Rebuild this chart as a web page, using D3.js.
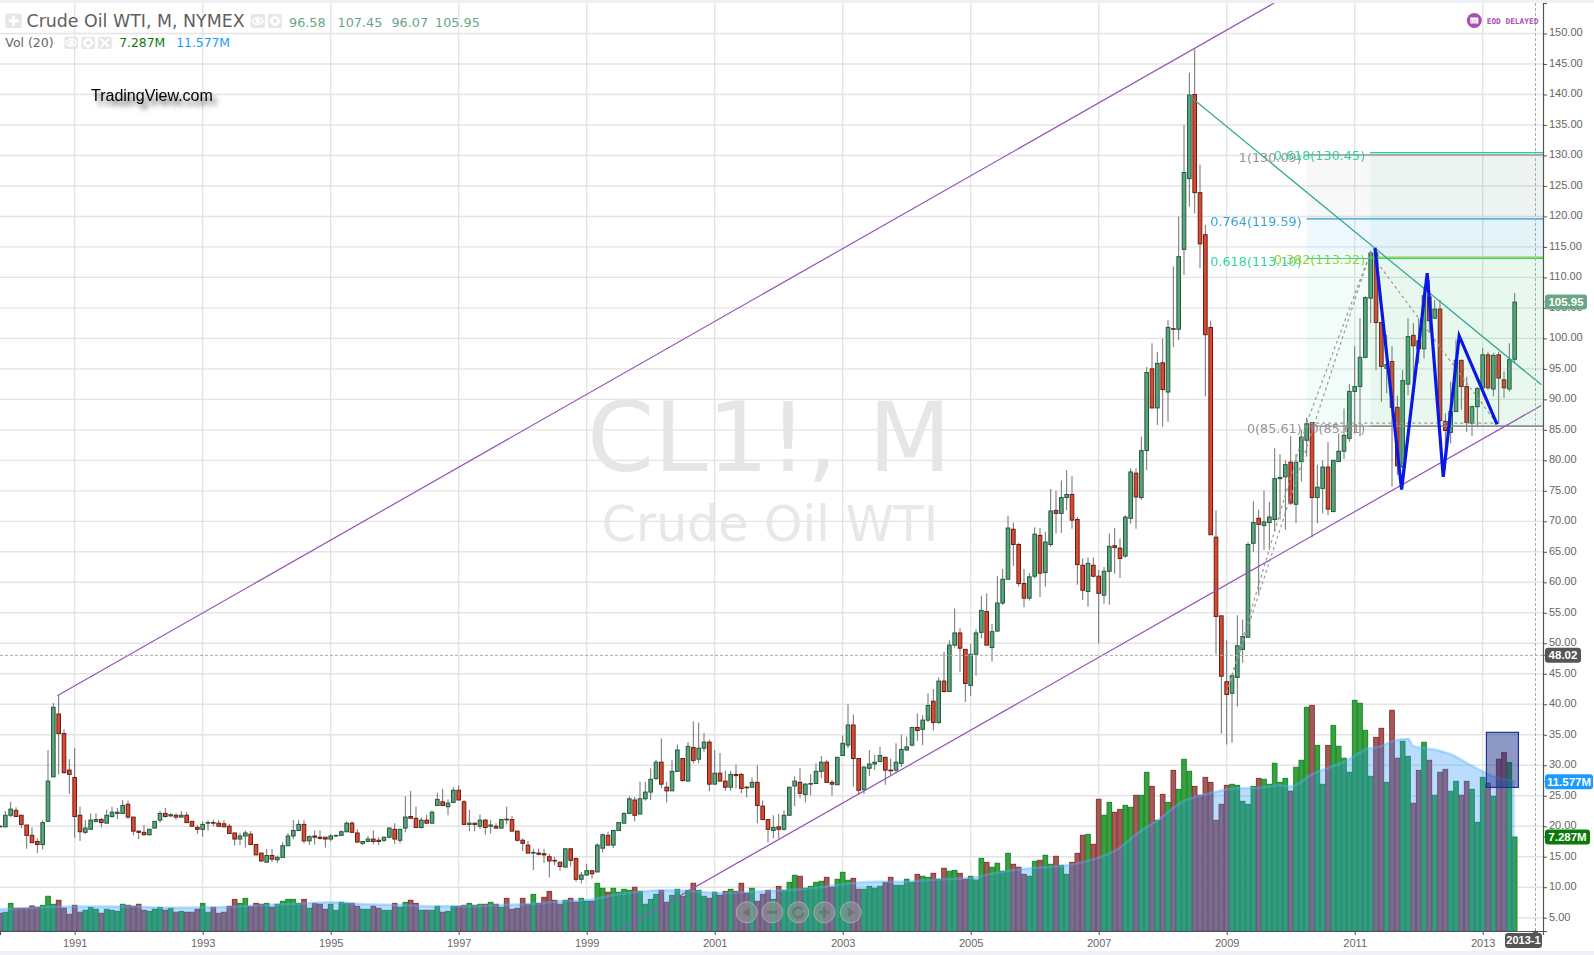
<!DOCTYPE html>
<html>
<head>
<meta charset="utf-8">
<title>CL1!, M</title>
<script src="https://cdn.jsdelivr.net/npm/d3@7/dist/d3.min.js"></script>
<style>
  html, body { margin: 0; padding: 0; background: #fff; overflow: hidden; }
  svg { display: block; }
</style>
</head>
<body>
<svg id="chart" width="1594" height="955"></svg>
<script>
// month index: 0 = Jan 1991, one row per month from Nov 1989 to Jul 2013
const firstMonth = -14;
// open, high, low, close
const ohlc = [
  [20.0,20.1,19.9,19.9],[19.9,22.5,19.9,21.8],
  // 1990
  [21.8,24,21.5,22.8],[22.6,23.1,21.5,21.6],[21.8,21.8,19.7,20.3],[20.2,20.2,16.3,18.5],[18.5,19.8,17.3,17.3],[17.5,18,15.6,17],[17,21,16.2,20.6],[20.8,32.5,20.8,27.4],[28.1,40.2,28.1,39.5],[38.4,41.4,28.5,35.2],[35.2,35.9,28.6,28.8],[29.2,31,25.3,28.5],
  // 1991
  [28,32.8,18.1,21.6],[21.8,23.2,17.6,19.1],[19,21,18.7,19.7],[19.5,22.1,19.5,21],[20.8,22.1,20.6,21.1],[21.1,21.4,19.8,20.6],[20.5,22.7,20.5,21.8],[21.6,23.2,21.4,22.3],[22.1,23,21.2,22.3],[22.1,24.3,22.1,23.4],[23.6,24.2,21.2,21.5],[21.5,21.5,18.5,19.2],
  // 1992
  [19.2,19.2,17.9,19],[19,20.2,18.5,18.6],[18.6,19.5,18.5,19.5],[19.7,20.8,19.7,20.8],[21,22.5,20.6,22.1],[22.1,23,21.4,21.6],[21.7,22.1,21.5,21.9],[21.8,22.1,21.1,21.5],[21.5,22.5,21.4,21.8],[21.8,22.3,20.5,20.6],[20.8,20.8,19.9,20],[19.8,20.2,18.7,19.5],
  // 1993
  [19.5,20.8,18.3,20.3],[20.55,21,19.3,20.6],[20.6,21.1,20,20.5],[20.5,21,19.9,20],[20.4,21,19.9,19.9],[20,20.4,18.8,18.8],[18.9,18.9,16.8,17.9],[17.9,18.9,16.9,18.4],[18.4,19.3,16.5,18.9],[18.7,19.2,17,17],[17,17,15.3,15.3],[15.6,15.6,14.2,14.3],
  // 1994
  [14.1,16.3,14.1,15.2],[15.2,16.3,14.1,14.6],[14.5,15.2,14,14.9],[14.9,17.4,14.9,16.8],[16.8,18.9,16.8,18.4],[18.4,21,17.9,19.3],[19.3,21,19.3,20.3],[20.3,21,17.2,17.6],[17.6,18.5,16.9,18.3],[18.4,19.3,17,18.2],[18.2,19.3,17.8,18],[18.2,18.2,16.5,17.9],
  // 1995
  [17.9,18.7,17.5,18.4],[18.4,18.6,18.2,18.5],[18.5,19.3,18.5,19.1],[19.1,20.8,19,20.5],[20.5,20.8,18.9,19],[18.9,19.5,17.4,17.4],[17.2,17.5,16.9,17.5],[17.5,18.4,17.4,17.9],[17.9,19.3,17,17.5],[17.7,18.2,16.9,17.5],[17.7,18.3,17.4,18.2],[18.2,19.8,18,19.7],
  // 1996
  [19.5,20.5,17.1,17.9],[17.7,19.5,17.2,19.5],[19.7,24.9,19,21.5],[21.6,25.8,21.3,21.3],[21.3,23.2,19.8,19.8],[19.8,21.5,19.6,21],[21,21.9,20.4,20.5],[20.5,22.6,20.5,22.3],[23.4,25.5,23.3,24.4],[24,26.1,23.3,23.4],[23.2,24.4,21.8,23.8],[23.9,26.4,23.9,25.9],
  // 1997
  [25.9,26.7,24.3,24.3],[24,24.3,20.3,20.3],[20.3,22.7,19.2,20.5],[20.5,20.5,19.2,20.3],[20,21.9,19.6,21],[21,21.2,18.6,19.8],[20,21,18.8,20.2],[20,20.5,19.6,19.7],[19.7,21.1,19.6,21.1],[21.15,23.2,20.3,21.1],[21.1,21.7,19.2,19.2],[19.2,19.2,17.5,17.7],
  // 1998
  [17.7,18,15.9,17.2],[16.9,17.6,15.5,15.6],[15.6,16.3,12.8,15.7],[15.6,16.3,15.2,15.4],[15.5,16.3,14,15.3],[15,15.5,11.6,14.3],[14.4,15,13.6,14.3],[14.1,14.2,12.7,13.4],[13.3,16.4,13.3,16.3],[16.3,16.4,13.4,14.4],[14.7,14.9,10.9,11.3],[11.3,12.5,10.6,12],
  // 1999
  [12,13.8,11.9,12.7],[12.7,12.8,11.4,12.2],[12.5,17.2,12.5,16.9],[16.4,18.8,15.7,18.6],[18.5,19.1,16.9,16.9],[16.9,19.4,16.4,19.3],[19.3,20.6,19.3,20.6],[20.5,22.3,20.5,22.1],[22.1,24.9,22.1,24.5],[24.3,24.8,20.8,21.8],[22,27.3,22,24.5],[24.5,27.3,24.2,25.6],
  // 2000
  [25.6,29.5,24.3,27.7],[27.8,30.9,27.6,30.5],[30.5,34.4,26.2,26.9],[26.4,27.3,23.9,25.8],[25.8,30.9,25.8,29],[29,33.4,28.9,32.5],[31.1,31.1,27.3,27.5],[27.4,33.8,27.4,33.1],[32.9,37.2,30.3,30.8],[31,37,30.3,32.8],[32.8,35.3,32.2,33.8],[33.8,34.2,25.7,26.9],
  // 2001
  [26.9,32.5,26.9,28.7],[28.7,32,27.4,27.4],[27.4,29.1,25.8,26.4],[26.4,29.1,25.8,28.5],[28.5,30.1,26.2,28.3],[28.5,28.7,25.4,26.2],[26.4,26.6,24.7,26.3],[26.4,28,26.4,27.2],[27.2,30,20.5,23.4],[23.3,24.2,21.1,21.1],[21.1,21.1,17.3,19.5],[19.3,21.8,18,19.8],
  // 2002
  [19.9,22,18,19.5],[19.5,22.6,19.3,21.8],[21.8,26.4,21.8,26.4],[26.6,28.2,23.3,27.4],[27.2,29.5,24.6,25.4],[25.2,27.1,23.9,26.9],[26.9,28.5,25.1,27],[27,30.3,27,29],[29,31.5,27.9,30.5],[30.5,30.9,27.2,27.2],[27.2,27.6,25,26.9],[26.8,31.3,26.8,31.3],
  // 2003
  [31.6,34.9,31.6,33.6],[33.3,40,32.8,36.6],[36.6,38.3,26.5,31.1],[31.1,31.1,25.2,25.9],[26,29.7,25.3,29.7],[29.5,32.5,28.2,30.2],[30.2,31.7,29.2,30.5],[30.6,33,30.6,31.6],[31.3,31.4,26.8,29.2],[29.2,31.1,28.3,29.1],[29.2,33.6,28.7,30.5],[30.3,35,29.7,32.6],
  // 2004
  [32.5,34.7,32.4,33],[33.3,36.2,33.1,36.2],[36.2,38.5,34,35.7],[35.9,38.2,33.3,37.4],[37.4,41.8,37.1,39.8],[40.5,42.5,35.7,37],[37,44.4,36.8,43.8],[43.8,48.6,41.9,42.1],[42.1,50.5,42.1,49.7],[49.7,55.7,49.3,51.7],[51.7,52.5,45.3,49.2],[49,49,40.4,43.4],
  // 2005
  [43.1,49.9,41.4,48.2],[48.2,52.3,44.7,51.7],[51.8,57.8,50.8,55.4],[55.2,58.2,49.7,49.7],[49.3,53.2,47,51.9],[52,61,52,56.6],[56.6,62.2,56.3,60.5],[60.5,70.9,60.5,68.9],[68.7,69.8,62.7,66.2],[66.2,66.5,59.3,59.8],[59.8,62.2,55.9,57.4],[57.4,61.5,57,60.9],
  // 2006
  [61,69,60.6,67.9],[67.7,68.9,57.6,61.5],[61.6,68.3,59.3,66.6],[66.2,75.3,65.8,71.7],[71.8,75,68,71.3],[71.3,76.7,68.1,73.9],[73.9,78.4,71.8,74.4],[74.4,77.4,68.8,70.2],[70.3,70.7,59.6,62.9],[62.8,63.9,57.1,58.7],[58.5,64.1,56,63.1],[62.8,64.1,60.8,61],
  // 2007
  [61,62,50,58.2],[57.9,62.5,56.5,61.8],[61.8,68,56.3,65.9],[66,68.9,61.4,65.7],[65.6,67.2,60.7,63.9],[64.3,71,64,70.7],[70.5,78.7,69.6,78.1],[77.9,78.7,68.8,74],[73.9,83.9,73.5,81.6],[81.6,95.3,78.4,94.4],[95,99.2,88.5,88.6],[88.6,97.8,85.8,95.9],
  // 2008
  [96,100,85.5,91.6],[91.2,103,86.3,101.8],[101.6,111.8,98.6,101.5],[101.5,120,99.7,113.4],[114.6,135,110.4,127.2],[126.2,143.6,121.6,139.9],[140,147.4,120.5,123.9],[123.9,128.5,111.5,115.5],[117,118.6,90.5,100.6],[101.8,102.9,67.8,67.8],[67.4,71.8,48.2,54.4],[54.5,54.5,35.2,44.6],
  // 2009
  [43.7,50.5,33.4,41.6],[41.8,44.7,33.7,44.7],[44.4,54.6,39.6,49.6],[49,53.9,46.8,51.1],[51,66.6,51,66.2],[66.4,73.3,65,69.8],[70.5,71.9,58.2,69.5],[69.3,75,65.3,69.9],[69.8,73.2,65.3,70.7],[70.3,82,68.3,77],[77,81,70.3,77.2],[77.3,80,68.6,79.3],
  // 2010
  [79.7,84,72.7,73],[72.8,81,69.7,79.7],[79.8,85,76.5,83.8],[83.3,87,80.6,86],[86.2,86.2,67.4,73.9],[73.9,79.3,69.7,75.6],[75.4,80,71.3,78.9],[78.9,83,71,72],[71.6,80,71.5,80],[79.8,84.4,79.8,81.5],[81.5,88.5,80.2,84.1],[83.6,92.5,83,91.3],
  // 2011
  [91.3,98.7,84.4,92.1],[92.1,103.3,83.9,96.9],[96.9,106.9,96.7,106.7],[106.6,114.4,102.5,114],[114,115,94.8,102.6],[102.6,102.6,89.6,95.4],[95.1,100.6,91,95.7],[96.2,98.7,75.7,88.7],[88.7,90.6,77.6,79.1],[78.9,94.8,77.3,93.1],[92.5,103.3,90.7,100.3],[100.5,102.5,92.9,98.8],
  // 2012
  [99.6,103.3,95.9,98.3],[98.3,108.5,96.7,107],[106.8,109.6,100.9,102.9],[103.3,106.3,103.3,104.8],[104.8,106.3,86.4,86.5],[86.4,87.7,78.4,84.9],[84.6,92.9,82.8,88],[88,99.8,88,96.4],[96.4,96.5,88.3,92.1],[92.1,93.7,84.7,86.2],[86.1,89,84,88.8],[88.8,92,85.4,91.8],
  // 2013
  [91.9,98.4,91.9,97.3],[97.3,97.8,91.6,91.9],[91.7,97.6,90.5,97.2],[97.3,97.8,86,93.5],[93.2,94.6,90.2,91.9],[91.7,99.2,91.3,96.5],[96.58,107.45,96.07,105.95]
];
// millions, same months as ohlc
const volumeM = [
  1.37,1.45,
  2.14,1.76,1.76,1.76,1.94,1.83,1.99,2.69,2.07,2.38,1.76,1.29,
  1.99,1.45,1.60,1.83,1.68,1.37,1.68,1.60,1.52,2.07,1.99,1.91,
  2.07,1.60,1.52,1.68,1.83,1.60,1.76,1.45,1.52,1.45,1.45,1.68,
  2.14,1.45,1.83,1.37,1.45,1.91,2.45,2.14,2.53,1.91,2.14,2.07,
  2.14,1.83,2.07,2.30,2.45,2.45,2.14,2.45,1.76,2.14,2.07,1.68,
  2.07,1.60,2.22,2.14,2.14,1.91,1.68,1.68,1.91,1.76,1.60,1.60,
  2.14,1.83,2.22,2.38,2.14,1.60,1.60,1.60,1.91,1.45,1.52,1.91,
  1.91,1.99,2.14,1.99,2.07,2.07,2.22,2.07,1.83,2.53,1.68,1.76,
  2.53,2.07,2.84,2.14,2.61,3.07,2.38,2.07,2.38,2.53,2.22,2.53,
  2.30,2.30,3.70,3.31,3.00,3.31,3.00,3.23,3.15,3.39,3.07,2.07,
  2.45,2.84,3.15,2.22,2.76,3.23,2.69,3.15,3.70,3.15,2.69,2.53,
  3.00,2.76,3.07,3.23,3.07,3.70,2.92,3.31,2.30,2.84,3.15,2.45,
  3.46,3.15,3.77,4.32,4.24,3.31,3.46,3.77,3.85,4.16,3.39,4.01,
  4.55,3.93,4.08,3.23,3.23,3.46,3.31,3.46,3.77,4.16,3.54,3.54,
  4.01,3.77,4.39,4.24,4.16,4.47,4.01,4.86,4.63,4.70,4.47,4.01,
  4.24,3.95,5.63,5.32,4.94,5.25,4.63,6.02,5.17,4.94,4.39,4.24,
  5.40,5.48,5.87,5.17,5.79,5.09,4.39,5.32,6.02,7.42,7.49,6.72,
  10.21,8.97,9.97,9.20,9.43,9.74,9.59,10.52,10.52,12.30,11.21,8.58,
  10.59,9.97,12.45,10.98,13.31,12.38,11.21,10.52,11.91,11.52,8.58,9.82,
  11.29,11.37,11.29,10.05,9.82,11.21,11.83,11.76,11.37,13.00,11.52,11.83,
  10.83,12.69,13.23,17.34,17.49,14.39,11.37,14.39,15.94,14.32,13.39,12.30,
  17.88,17.65,15.56,11.99,15.01,15.71,11.52,17.11,13.39,14.70,13.54,9.90,
  12.45,14.63,13.23,10.52,12.30,12.53,10.83,11.60,10.52,11.60,10.98,8.42,
  11.91,11.45,10.44,13.31,13.82,13.05,7.287
];
// 20-period volume average
const volumeMaMonths = [-14,-8,0,11,17,29,36,42,48,55,61,67,74,80,86,92,97,101,106,111,117,121,127,133,139,145,150,155,161,168,174,180,186,191,196,199,203,208,212,214,218,222,226,228,232,236,238,242,245,247,250,251,255,258,262,266,270];
const volumeMaValues = [1.68,1.81,1.89,1.89,1.81,1.86,2.02,2.12,2.22,2.07,2.02,1.91,1.91,2.02,2.12,2.33,2.45,2.79,3.05,3.15,3.05,2.95,3.05,3.15,3.36,3.67,3.82,3.82,3.98,4.13,4.6,4.9,5.1,5.55,6.46,7.49,8.57,10.08,10.6,10.8,11.06,11.11,11.3,11.2,12.15,12.8,13.1,14.07,14.33,14.7,14.9,14.33,14.07,13.7,12.8,12.0,11.577];

const priceTicks = d3.range(5, 151, 5);
const yearTickMonths = [0,24,48,72,96,120,144,168,192,216,240,264];
const yearTickLabels = ['1991','1993','1995','1997','1999','2001','2003','2005','2007','2009','2011','2013'];

// drawing tools, [month, price]
const upperChannel = [[-3.26,41.4],[224.9,155]];
const lowerChannel = [[102.2,3],[275,89]];
const downTrend = [[208.8,139.9],[275,92.4]];
const blueZigzag = [[243.8,114.8],[248.8,75.2],[253.6,110.7],[256.6,77.3],[259.6,100.4],[266.7,85.9]];
const fibDashA = [[216,41.9],[231,86.1],[242.9,114],[266.6,86.1],[231,86.1]];
const fibDashB = [[216,41.9],[242.9,114]];
const fibStartA = 231, fibStartB = 242.9;
const fibLevelsA = [
  { level: '1', price: 130.09, color: '#8c8c8c', band: 'rgba(120,120,120,0.05)' },
  { level: '0.764', price: 119.59, color: '#2a9bd8', band: 'rgba(33,150,243,0.07)' },
  { level: '0.618', price: 113.10, color: '#1fd19a', band: 'rgba(40,200,150,0.06)' },
  { level: '0', price: 85.61, color: '#8c8c8c', band: null }
];
const fibLevelsB = [
  { level: '0.618', price: 130.45, color: '#1fd19a', band: 'rgba(30,170,130,0.055)' },
  { level: '0.382', price: 113.32, color: '#8fcf20', band: 'rgba(90,190,60,0.06)' },
  { level: '0', price: 85.61, color: '#8c8c8c', band: null }
];
const headerValues = ['96.58','107.45','96.07','105.95'];
const headerValueX = [289,337.5,391.4,435];

const plotW = 1543, plotTop = 3, plotBottom = 931;
const svg = d3.select('#chart');
const x = d3.scaleLinear([-14, 275.31], [0, plotW]);
const y = d3.scaleLinear([2.82, 155], [plotBottom, plotTop]);
const yVol = d3.scaleLinear([0, 10], [plotBottom, plotBottom - 129]);
const candles = ohlc.map((d, i) => ({ month: firstMonth + i, open: d[0], high: d[1], low: d[2], close: d[3], vol: volumeM[i], up: d[3] >= d[0] }));
const priceLine = d3.line().x((d) => x(d[0])).y((d) => y(d[1]));

svg.append('rect').attr('width', 1594).attr('height', 955).attr('fill', '#fff');
const defs = svg.append('defs');
defs.append('clipPath').attr('id', 'plot').append('rect').attr('x', 0).attr('y', plotTop).attr('width', plotW).attr('height', plotBottom - plotTop);
defs.append('filter').attr('id', 'logoShadow').attr('x', '-10%').attr('y', '-50%').attr('width', '125%').attr('height', '220%')
  .append('feDropShadow').attr('dx', 4).attr('dy', 5).attr('stdDeviation', 2.4).attr('flood-color', '#000').attr('flood-opacity', 0.65);

// grid
const grid = svg.append('g').attr('stroke', '#e4e4e4').attr('stroke-width', 1.4);
grid.selectAll('.h').data(priceTicks).join('line').attr('x1', 0).attr('x2', plotW).attr('y1', (d) => y(d)).attr('y2', (d) => y(d));
grid.selectAll('.v').data(yearTickMonths).join('line').attr('x1', (d) => x(d)).attr('x2', (d) => x(d)).attr('y1', plotTop).attr('y2', plotBottom);

// watermark
svg.append('text').attr('x', 769).attr('y', 471).attr('text-anchor', 'middle').attr('font-family', 'DejaVu Sans').attr('font-size', 96).attr('fill', '#e6e6e6').text('CL1!, M');
svg.append('text').attr('x', 770).attr('y', 541).attr('text-anchor', 'middle').attr('font-family', 'DejaVu Sans').attr('font-size', 49).attr('fill', '#e8e8e8').text('Crude Oil WTI');

const plot = svg.append('g').attr('clip-path', 'url(#plot)');

// volume
const barW = 4.6;
plot.append('g').selectAll('rect').data(candles).join('rect')
  .attr('x', (d) => x(d.month) - barW / 2).attr('y', (d) => yVol(d.vol))
  .attr('width', barW).attr('height', (d) => plotBottom - yVol(d.vol))
  .attr('fill', (d) => (d.up ? '#3ca03c' : '#a55a5a'))
  .attr('stroke', (d) => (d.up ? '#128a2e' : '#8a3232')).attr('stroke-width', 1);
const maPoints = volumeMaMonths.map((m, i) => [m, volumeMaValues[i]]);
plot.append('path').datum(maPoints)
  .attr('d', d3.area().x((d) => x(d[0])).y0(plotBottom).y1((d) => yVol(d[1])).curve(d3.curveMonotoneX))
  .attr('fill', 'rgba(42,149,255,0.33)');
plot.append('path').datum(maPoints)
  .attr('d', d3.line().x((d) => x(d[0])).y((d) => yVol(d[1])).curve(d3.curveMonotoneX))
  .attr('fill', 'none').attr('stroke', 'rgba(90,180,255,0.4)').attr('stroke-width', 2.5);

// candles
const candleW = 3.6;
plot.append('g').attr('stroke', '#707070').selectAll('line').data(candles).join('line')
  .attr('x1', (d) => x(d.month)).attr('x2', (d) => x(d.month)).attr('y1', (d) => y(d.high)).attr('y2', (d) => y(d.low));
plot.append('g').selectAll('rect').data(candles).join('rect')
  .attr('x', (d) => x(d.month) - candleW / 2).attr('width', candleW)
  .attr('y', (d) => y(Math.max(d.open, d.close)))
  .attr('height', (d) => Math.max(0.6, Math.abs(y(d.open) - y(d.close))))
  .attr('fill', (d) => (d.up ? '#5da37c' : '#db4a33'))
  .attr('stroke', (d) => (d.up ? '#1f5a3c' : '#6b1c12')).attr('stroke-width', 1);

// fib retracements
function drawFib(levels, start) {
  const left = x(start);
  levels.forEach((l, i) => {
    if (!l.band) return;
    const next = levels[i + 1];
    plot.append('rect').attr('x', left).attr('width', plotW - left).attr('y', y(l.price)).attr('height', y(next.price) - y(l.price)).attr('fill', l.band);
  });
}
drawFib(fibLevelsA, fibStartA);
drawFib(fibLevelsB, fibStartB);
function drawFibLines(levels, start) {
  levels.forEach((l) => {
    plot.append('line').attr('x1', x(start)).attr('x2', plotW).attr('y1', y(l.price)).attr('y2', y(l.price)).attr('stroke', l.color).attr('stroke-width', 1.2);
    svg.append('text').attr('x', x(start) - 5).attr('y', y(l.price) + 7).attr('text-anchor', 'end')
      .attr('font-family', 'DejaVu Sans').attr('font-size', 12.8).attr('fill', l.color).attr('opacity', 0.92)
      .text(`${l.level}(${l.price.toFixed(2)})`);
  });
}
drawFibLines(fibLevelsA, fibStartA);
drawFibLines(fibLevelsB, fibStartB);

// trend lines
[upperChannel, lowerChannel].forEach((p) => {
  plot.append('path').attr('d', priceLine(p)).attr('fill', 'none').attr('stroke', '#9355b5').attr('stroke-width', 1.2);
});
plot.append('path').attr('d', priceLine(downTrend)).attr('fill', 'none').attr('stroke', '#2aa88e').attr('stroke-width', 1.2);
[fibDashA, fibDashB].forEach((p) => {
  plot.append('path').attr('d', priceLine(p)).attr('fill', 'none').attr('stroke', '#9a9a9a').attr('stroke-width', 1.2).attr('stroke-dasharray', '3 3');
});
plot.append('path').attr('d', priceLine(blueZigzag)).attr('fill', 'none').attr('stroke', '#0a18e6').attr('stroke-width', 3.2).attr('stroke-linejoin', 'miter');

// box over the last volume bars
plot.append('rect').attr('x', x(264.7)).attr('width', x(270.7) - x(264.7)).attr('y', yVol(15.4)).attr('height', yVol(11.13) - yVol(15.4))
  .attr('fill', 'rgba(30,50,140,0.5)').attr('stroke', '#17349a').attr('stroke-width', 1.2);

// crosshair
const crossY = y(48.02), crossX = x(273.9);
svg.append('line').attr('x1', 0).attr('x2', plotW).attr('y1', crossY).attr('y2', crossY).attr('stroke', '#a8a8a8').attr('stroke-dasharray', '3 2');
svg.append('line').attr('x1', crossX).attr('x2', crossX).attr('y1', plotTop).attr('y2', plotBottom).attr('stroke', '#a8a8a8').attr('stroke-dasharray', '3 2');

// axes
const axisRight = svg.append('g').attr('transform', `translate(${plotW},0)`)
  .call(d3.axisRight(y).tickValues(priceTicks).tickSize(4).tickPadding(2).tickFormat(d3.format('.2f')));
const axisBottom = svg.append('g').attr('transform', `translate(0,${plotBottom})`)
  .call(d3.axisBottom(x).tickValues(yearTickMonths).tickSize(4).tickPadding(4).tickFormat((d, i) => yearTickLabels[i]));
[axisRight, axisBottom].forEach((a) => {
  a.select('.domain').attr('stroke', '#555').attr('stroke-width', 1.2);
  a.selectAll('.tick line').attr('stroke', '#555');
  a.selectAll('text').attr('font-family', 'Liberation Sans').attr('font-size', 11).attr('fill', '#666');
});
axisRight.selectAll('text').attr('dy', '0.22em');

// axis tags
function axisTag(text, cy, x1, fill, size) {
  const g = svg.append('g');
  g.append('path').attr('d', `M${plotW + 1},${cy} l4,-4 v8 z`).attr('fill', fill);
  g.append('rect').attr('x', plotW + 2).attr('y', cy - 7.5).attr('width', x1 - plotW - 2).attr('height', 15).attr('rx', 3).attr('fill', fill);
  g.append('text').attr('x', (plotW + 2 + x1) / 2).attr('y', cy + 4).attr('text-anchor', 'middle').attr('font-family', 'Liberation Sans').attr('font-weight', 'bold').attr('font-size', size).attr('fill', '#fff').text(text);
}
axisTag('105.95', y(105.95), 1587, '#6aa585', 11.5);
axisTag('48.02', crossY, 1581, '#555', 11.5);
axisTag('11.577M', yVol(11.577), 1593, '#1b9bff', 11.5);
axisTag('7.287M', yVol(7.287), 1590, '#0b7a0b', 11.5);

svg.append('rect').attr('x', 1505).attr('y', 933).attr('width', 37).attr('height', 15).attr('rx', 3).attr('fill', '#555');
svg.append('path').attr('d', `M${crossX - 3},933 l3,-3 l3,3 z`).attr('fill', '#555');
svg.append('text').attr('x', 1523.5).attr('y', 944).attr('text-anchor', 'middle').attr('font-family', 'Liberation Sans').attr('font-weight', 'bold').attr('font-size', 11).attr('fill', '#fff').text('2013-1');

// frame bands
svg.append('rect').attr('width', 1594).attr('height', 3).attr('fill', '#eef0f5');
svg.append('rect').attr('y', 951).attr('width', 1594).attr('height', 4).attr('fill', '#eef0f5');

// legend
function iconBox(bx, by, w, h, glyph) {
  svg.append('rect').attr('x', bx).attr('y', by).attr('width', w).attr('height', h).attr('rx', 2).attr('fill', '#e6e6e6');
  const cx = bx + w / 2, cy = by + h / 2;
  const g = svg.append('g').attr('stroke', '#fff').attr('fill', 'none').attr('stroke-width', 2);
  if (glyph === 'plus') { g.append('path').attr('d', `M${cx - 5},${cy} h10 M${cx},${cy - 5} v10`).attr('stroke-width', 3); }
  if (glyph === 'x') { g.append('path').attr('d', `M${cx - 4},${cy - 4} l8,8 M${cx + 4},${cy - 4} l-8,8`); }
  if (glyph === 'eye') { g.append('ellipse').attr('cx', cx).attr('cy', cy).attr('rx', 5).attr('ry', 3.5).attr('stroke-width', 1.5); g.append('circle').attr('cx', cx).attr('cy', cy).attr('r', 1.5).attr('fill', '#fff'); }
  if (glyph === 'gear') { g.append('circle').attr('cx', cx).attr('cy', cy).attr('r', 3.5).attr('stroke-width', 2.6); g.append('path').attr('d', `M${cx - 5.5},${cy} h2 M${cx + 3.5},${cy} h2 M${cx},${cy - 5.5} v2 M${cx},${cy + 3.5} v2`); }
}
iconBox(5.3, 13.5, 16.5, 14.5, 'plus');
iconBox(250.7, 14, 14.3, 14, 'eye');
iconBox(268, 14, 14, 14, 'gear');
iconBox(64.3, 36.7, 13.7, 12.3, 'eye');
iconBox(81.3, 36.7, 13.7, 12.3, 'gear');
iconBox(98, 36.7, 13.7, 12.3, 'x');

svg.append('text').attr('x', 26.5).attr('y', 27).attr('font-family', 'DejaVu Sans').attr('font-size', 17.4).attr('fill', '#5f5f5f').text('Crude Oil WTI, M, NYMEX');
headerValues.forEach((v, i) => {
  svg.append('text').attr('x', headerValueX[i]).attr('y', 27).attr('font-family', 'DejaVu Sans').attr('font-size', 12.8).attr('fill', '#6aa585').text(v);
});
svg.append('text').attr('x', 5.3).attr('y', 46.5).attr('font-family', 'DejaVu Sans').attr('font-size', 12.5).attr('fill', '#666').text('Vol (20)');
svg.append('text').attr('x', 119.3).attr('y', 46.5).attr('font-family', 'DejaVu Sans').attr('font-size', 12.3).attr('fill', '#0b7a0b').text('7.287M');
svg.append('text').attr('x', 176.3).attr('y', 46.5).attr('font-family', 'DejaVu Sans').attr('font-size', 12.3).attr('fill', '#1b9bff').text('11.577M');

svg.append('text').attr('x', 91).attr('y', 101).attr('font-family', 'Liberation Sans').attr('font-size', 16).attr('fill', '#000').attr('filter', 'url(#logoShadow)').text('TradingView.com');

// EOD badge
svg.append('circle').attr('cx', 1474.3).attr('cy', 20.5).attr('r', 7.5).attr('fill', '#a94fb0');
svg.append('rect').attr('x', 1470.3).attr('y', 17.5).attr('width', 8).attr('height', 6).attr('fill', '#fff');
svg.append('path').attr('d', 'M1471.3,20 h6 M1471.3,22 h6').attr('stroke', '#a94fb0').attr('stroke-width', 0.8).attr('stroke-dasharray', '1 1');
svg.append('text').attr('x', 1486.7).attr('y', 24).attr('font-family', 'DejaVu Sans Mono').attr('font-weight', 'bold').attr('font-size', 7.8).attr('fill', '#a94fb0').text('EOD DELAYED');

// zoom / scroll buttons
const navX = [746.7, 772.3, 798.3, 824.3, 850.7];
const navGlyph = ['M3,-5 L-4,0 L3,5 Z', 'M-5,-1.5 H5 V1.5 H-5 Z', 'M4,-3 A5,5 0 1 0 5,1', 'M-5,-1.5 H-1.5 V-5 H1.5 V-1.5 H5 V1.5 H1.5 V5 H-1.5 V1.5 H-5 Z', 'M-3,-5 L4,0 L-3,5 Z'];
const nav = svg.append('g').selectAll('g').data(navX).join('g').attr('transform', (d) => `translate(${d},912.3)`);
nav.append('circle').attr('r', 10.5).attr('fill', 'rgba(150,150,150,0.6)').attr('stroke', 'rgba(190,190,190,0.7)').attr('stroke-width', 1);
nav.append('path').attr('d', (d, i) => navGlyph[i]).attr('fill', (d, i) => (i === 2 ? 'none' : 'rgba(90,110,100,0.65)')).attr('stroke', (d, i) => (i === 2 ? 'rgba(90,110,100,0.65)' : 'none')).attr('stroke-width', 2.4);
</script>
</body>
</html>
